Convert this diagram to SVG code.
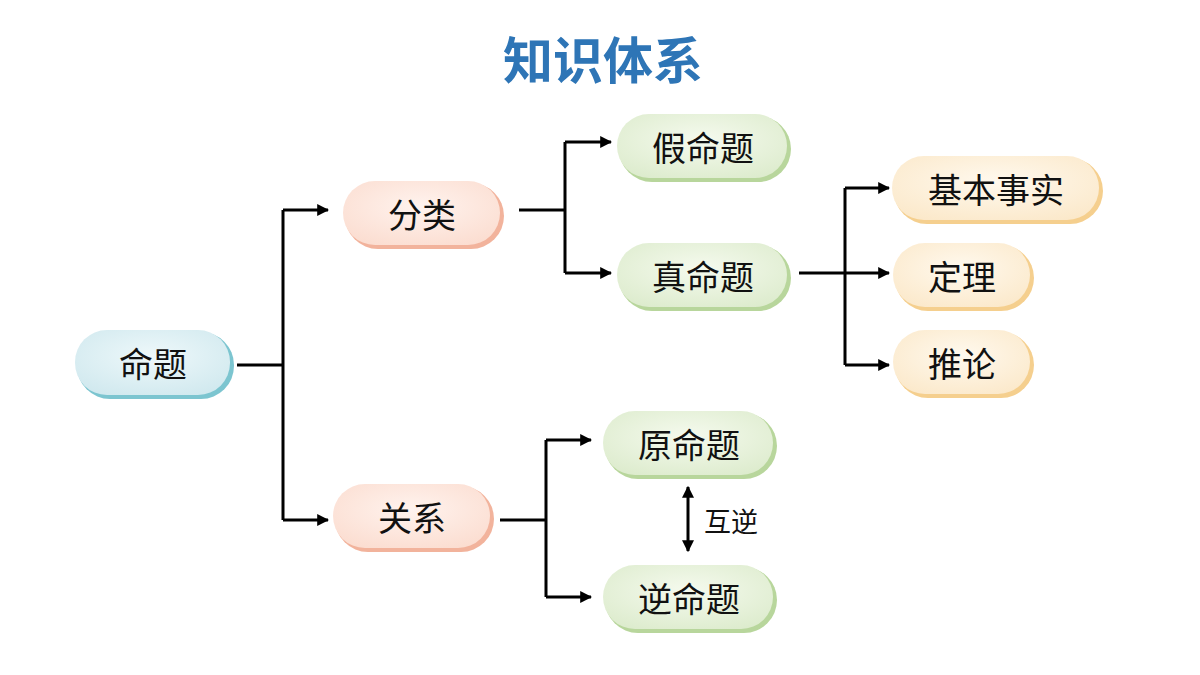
<svg xmlns="http://www.w3.org/2000/svg" width="1200" height="675" viewBox="0 0 1200 675">
<defs>
<style>
text{font-family:"Noto Sans CJK SC",sans-serif;fill:#111;text-anchor:middle;dominant-baseline:central}
.t{font-size:34px}
.c{fill:none;stroke:#000;stroke-width:3}
</style>
<marker id="a" viewBox="0 0 10 10" refX="9" refY="5" markerWidth="4" markerHeight="4" orient="auto-start-reverse"><path d="M0,0L10,5L0,10z" fill="#000"/></marker>
<radialGradient id="gb" cx="0.5" cy="0.4" r="0.7"><stop offset="0" stop-color="#eef8fa"/><stop offset="1" stop-color="#cfe8ee"/></radialGradient>
<radialGradient id="gr" cx="0.5" cy="0.4" r="0.7"><stop offset="0" stop-color="#fff3ee"/><stop offset="1" stop-color="#fbdccf"/></radialGradient>
<radialGradient id="gg" cx="0.5" cy="0.4" r="0.7"><stop offset="0" stop-color="#f5faee"/><stop offset="1" stop-color="#dcebcc"/></radialGradient>
<radialGradient id="gy" cx="0.5" cy="0.4" r="0.7"><stop offset="0" stop-color="#fff9ee"/><stop offset="1" stop-color="#fbe8c9"/></radialGradient>
</defs>
<rect width="1200" height="675" fill="#fff"/>
<text x="603" y="57" style="font-size:50px;font-weight:bold;fill:#2e75b6">知识体系</text>
<g id="connectors">
<path class="c" d="M237,365H283M283,210V520"/>
<path class="c" d="M283,210H328" marker-end="url(#a)"/>
<path class="c" d="M283,520H328" marker-end="url(#a)"/>
<path class="c" d="M519,210H565M565,142V273"/>
<path class="c" d="M565,142H611" marker-end="url(#a)"/>
<path class="c" d="M565,273H611" marker-end="url(#a)"/>
<path class="c" d="M799,273H845M845,188V365"/>
<path class="c" d="M845,188H889" marker-end="url(#a)"/>
<path class="c" d="M845,273H889" marker-end="url(#a)"/>
<path class="c" d="M845,365H889" marker-end="url(#a)"/>
<path class="c" d="M500,520H546M546,440V597"/>
<path class="c" d="M546,440H591" marker-end="url(#a)"/>
<path class="c" d="M546,597H591" marker-end="url(#a)"/>
<path class="c" d="M688,487V551" marker-start="url(#a)" marker-end="url(#a)"/>
<text x="731" y="520" style="font-size:27px">互逆</text>
</g>
<g id="n1"><rect x="77" y="332" width="157" height="67" rx="33" fill="#7cc5d0"/><rect x="75" y="330" width="155" height="65" rx="32" fill="url(#gb)"/><text class="t" x="153" y="362">命题</text></g>
<g id="n2"><rect x="345" y="183" width="159" height="66" rx="33" fill="#f2b39c"/><rect x="343" y="181" width="157" height="64" rx="32" fill="url(#gr)"/><text class="t" x="422" y="213">分类</text></g>
<g id="n3"><rect x="335" y="486" width="159" height="66" rx="33" fill="#f2b39c"/><rect x="333" y="484" width="157" height="64" rx="32" fill="url(#gr)"/><text class="t" x="412" y="516">关系</text></g>
<g id="n4"><rect x="619" y="116" width="172" height="66" rx="33" fill="#b8d69c"/><rect x="617" y="114" width="170" height="64" rx="32" fill="url(#gg)"/><text class="t" x="703" y="146">假命题</text></g>
<g id="n5"><rect x="619" y="245" width="172" height="66" rx="33" fill="#b8d69c"/><rect x="617" y="243" width="170" height="64" rx="32" fill="url(#gg)"/><text class="t" x="703" y="275">真命题</text></g>
<g id="n6"><rect x="894" y="158" width="209" height="66" rx="33" fill="#f5cf8e"/><rect x="892" y="156" width="207" height="64" rx="32" fill="url(#gy)"/><text class="t" x="996" y="188">基本事实</text></g>
<g id="n7"><rect x="895" y="245" width="139" height="66" rx="33" fill="#f5cf8e"/><rect x="893" y="243" width="137" height="64" rx="32" fill="url(#gy)"/><text class="t" x="962" y="275">定理</text></g>
<g id="n8"><rect x="895" y="332" width="139" height="66" rx="33" fill="#f5cf8e"/><rect x="893" y="330" width="137" height="64" rx="32" fill="url(#gy)"/><text class="t" x="962" y="362">推论</text></g>
<g id="n9"><rect x="605" y="413" width="172" height="66" rx="33" fill="#b8d69c"/><rect x="603" y="411" width="170" height="64" rx="32" fill="url(#gg)"/><text class="t" x="689" y="443">原命题</text></g>
<g id="n10"><rect x="605" y="567" width="172" height="66" rx="33" fill="#b8d69c"/><rect x="603" y="565" width="170" height="64" rx="32" fill="url(#gg)"/><text class="t" x="689" y="597">逆命题</text></g>
</svg>
